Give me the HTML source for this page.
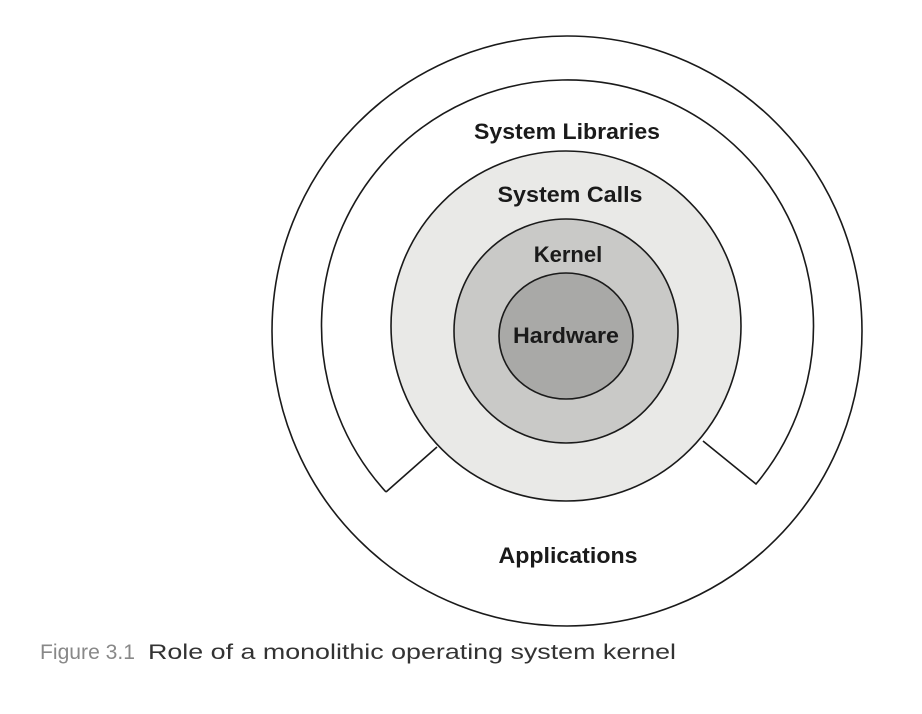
<!DOCTYPE html>
<html><head><meta charset="utf-8"><style>
html,body{margin:0;padding:0;background:#fff;width:922px;height:714px;overflow:hidden}
</style></head><body>
<svg width="922" height="714" xmlns="http://www.w3.org/2000/svg" style="position:absolute;left:0;top:0">
<circle cx="567" cy="331" r="295" fill="#fff" stroke="#1a1a1a" stroke-width="1.6"/>
<path d="M386,492 A246,246 0 1,1 756,484 L703,441" fill="none" stroke="#1a1a1a" stroke-width="1.6"/>
<path d="M386,492 L437,447" fill="none" stroke="#1a1a1a" stroke-width="1.6"/>
<circle cx="566" cy="326" r="175" fill="#e9e9e7" stroke="#1a1a1a" stroke-width="1.6"/>
<circle cx="566" cy="331" r="112" fill="#c9c9c7" stroke="#1a1a1a" stroke-width="1.6"/>
<ellipse cx="566" cy="336" rx="67" ry="63" fill="#a9a9a7" stroke="#1a1a1a" stroke-width="1.6"/>
<g font-family="Liberation Sans, sans-serif" font-weight="bold" font-size="22" fill="#1a1a1a" text-anchor="middle">
<text x="567" y="139" textLength="186" lengthAdjust="spacingAndGlyphs">System Libraries</text>
<text x="570" y="202" textLength="145" lengthAdjust="spacingAndGlyphs">System Calls</text>
<text x="568" y="262">Kernel</text>
<text x="566" y="343" textLength="106" lengthAdjust="spacingAndGlyphs">Hardware</text>
<text x="568" y="563" textLength="139" lengthAdjust="spacingAndGlyphs">Applications</text>
</g>
<text x="40" y="659" font-family="Liberation Sans, sans-serif" font-size="21" fill="#888" textLength="95" lengthAdjust="spacingAndGlyphs">Figure 3.1</text>
<text x="148" y="659" font-family="Liberation Sans, sans-serif" font-size="21" fill="#333" textLength="528" lengthAdjust="spacingAndGlyphs">Role of a monolithic operating system kernel</text>
</svg>
</body></html>
